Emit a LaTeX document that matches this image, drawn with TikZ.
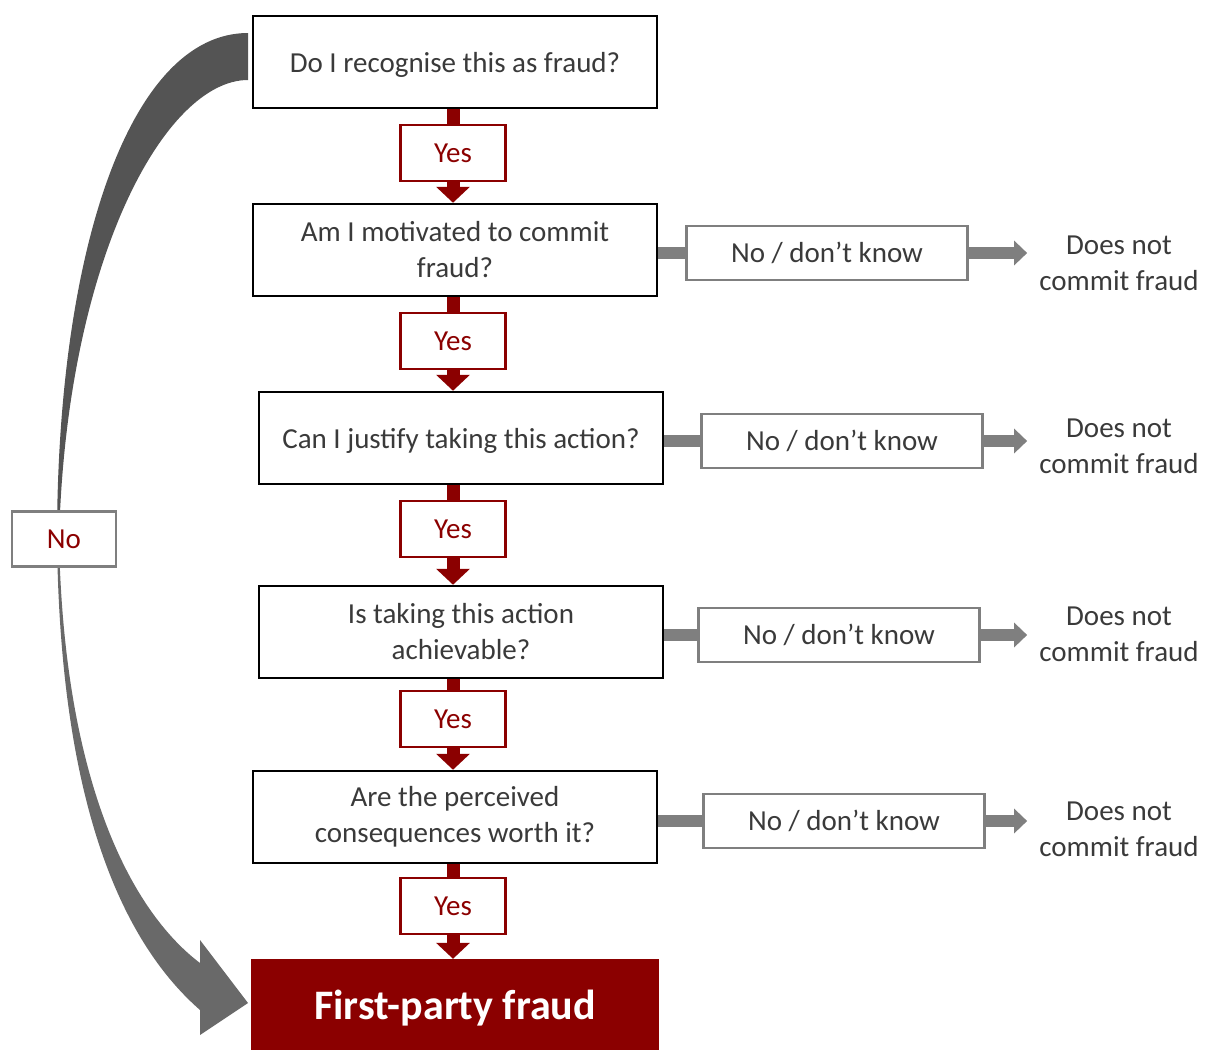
\documentclass[tikz,border=0pt]{standalone}
\usepackage{fontspec}
\setmainfont{Carlito}
\usepackage{xcolor}
\usepackage{tikz}
\usetikzlibrary{arrows.meta,positioning}

\definecolor{fraudred}{HTML}{8B0000}
\definecolor{nogray}{HTML}{7F7F7F}
\definecolor{txtgray}{HTML}{3A3A3A}

\begin{document}
\begin{tikzpicture}[
    x=1pt, y=-1pt,
    font=\fontsize{29}{36}\selectfont,
    question/.style={rectangle, draw=black, line width=2.5pt, fill=white, text=txtgray, minimum width=404pt, minimum height=92pt, align=center},
    yesbox/.style={rectangle, draw=fraudred, line width=2.5pt, fill=white, text=fraudred, minimum width=105pt, minimum height=56pt},
    nobox/.style={rectangle, draw=nogray, line width=2.5pt, fill=white, text=txtgray, minimum width=281pt, minimum height=54pt},
    outcome/.style={text=txtgray, align=center, inner sep=0pt},
    final/.style={rectangle, fill=fraudred, text=white, minimum width=408pt, minimum height=91pt, text depth=-4pt, font=\fontsize{42}{50}\selectfont\bfseries},
    yesline/.style={fraudred, line width=13pt},
    yesarrow/.style={-{Triangle[width=33pt,length=16pt]}, fraudred, line width=13pt},
    noline/.style={nogray, line width=12pt},
    noarrow/.style={-{Triangle[width=24pt,length=13pt]}, nogray, line width=12pt, shorten >=12pt}
]
    \useasboundingbox (0,0) rectangle (1207,1050);

    % Big curved "No" arrow
    \fill[black!67] (248,33) .. controls (130,33) and (57,250) .. (57,540)
        -- (59,540) .. controls (66,260) and (165,80) .. (248,80) -- cycle;
    \fill[black!59] (57,540) .. controls (60,800) and (120,940) .. (200,1010)
        -- (200,1035) -- (248,1003) -- (200,940) -- (200,963)
        .. controls (130,910) and (64,780) .. (59,540) -- cycle;
    \node[rectangle, draw=nogray, line width=2.5pt, fill=white, text=fraudred, minimum width=104pt, minimum height=55pt] (nomain) at (64,539) {No};

    % Questions
    \node[question, text depth=0pt] (q1) at (455,62) {Do I recognise this as fraud?};
    \node[yesbox] (y1) at (453,153) {Yes};
    \node[question] (q2) at (455,250) {Am I motivated to commit\\fraud?};
    \node[yesbox] (y2) at (453,341) {Yes};
    \node[question, text depth=0pt] (q3) at (461,438) {Can I justify taking this action?};
    \node[yesbox] (y3) at (453,529) {Yes};
    \node[question] (q4) at (461,632) {Is taking this action\\achievable?};
    \node[yesbox] (y4) at (453,719) {Yes};
    \node[question] (q5) at (455,817) {Are the perceived\\consequences worth it?};
    \node[yesbox] (y5) at (453,906) {Yes};
    \node[final] (fin) at (455,1004.5) {First-party fraud};

    % Yes connectors
    \draw[yesline] (q1.south -| y1.north) -- (y1.north);
    \draw[yesarrow] (y1.south) -- (y1.south |- q2.north);
    \draw[yesline] (q2.south -| y2.north) -- (y2.north);
    \draw[yesarrow] (y2.south) -- (y2.south |- q3.north);
    \draw[yesline] (q3.south -| y3.north) -- (y3.north);
    \draw[yesarrow] (y3.south) -- (y3.south |- q4.north);
    \draw[yesline] (q4.south -| y4.north) -- (y4.north);
    \draw[yesarrow] (y4.south) -- (y4.south |- q5.north);
    \draw[yesline] (q5.south -| y5.north) -- (y5.north);
    \draw[yesarrow] (y5.south) -- (y5.south |- fin.north);

    % No / don't know branches
    \node[nobox] (n2) at (827,253) {No / don’t know};
    \node[nobox] (n3) at (842,441) {No / don’t know};
    \node[nobox] (n4) at (839,635) {No / don’t know};
    \node[nobox] (n5) at (844,821) {No / don’t know};

    \node[outcome] (r2) at (1119,263) {Does not\\commit fraud};
    \node[outcome] (r3) at (1119,446) {Does not\\commit fraud};
    \node[outcome] (r4) at (1119,634) {Does not\\commit fraud};
    \node[outcome] (r5) at (1119,829) {Does not\\commit fraud};

    \draw[noline] (q2.east |- n2.west) -- (n2.west);
    \draw[noline] (q3.east |- n3.west) -- (n3.west);
    \draw[noline] (q4.east |- n4.west) -- (n4.west);
    \draw[noline] (q5.east |- n5.west) -- (n5.west);
    \draw[noarrow] (n2.east) -- (n2.east -| r2.west);
    \draw[noarrow] (n3.east) -- (n3.east -| r3.west);
    \draw[noarrow] (n4.east) -- (n4.east -| r4.west);
    \draw[noarrow] (n5.east) -- (n5.east -| r5.west);
\end{tikzpicture}
\end{document}
